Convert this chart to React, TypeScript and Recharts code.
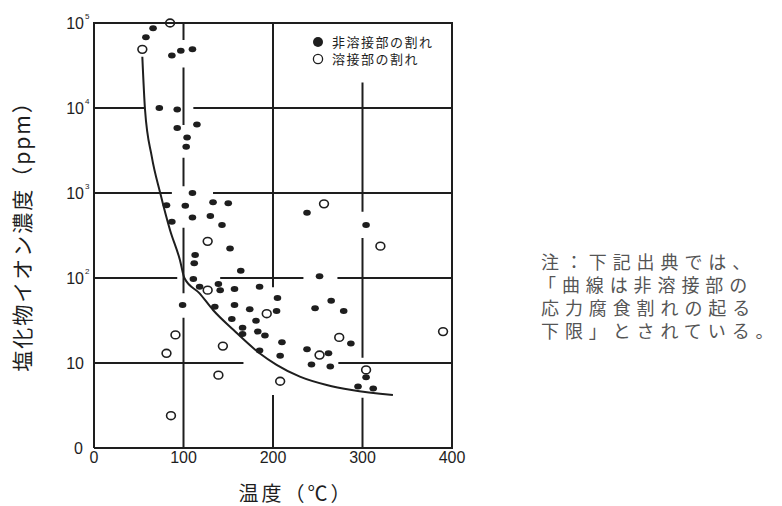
import { ComposedChart, Scatter, Line, XAxis, YAxis } from 'recharts';

// 非溶接部の割れ (filled)
const baseTemps = [66, 58, 87, 97, 110, 73, 93, 93, 115, 104, 103, 110, 81, 102, 133, 150, 87, 110, 130, 143, 152, 238, 304, 113, 112, 164, 252, 111, 118, 139, 141, 157, 185, 205, 204, 99, 135, 157, 174, 154, 181, 166, 166, 183, 191, 247, 265, 279, 287, 210, 185, 208, 238, 262, 243, 264, 304, 295, 312];
const baseConc = [87000, 68000, 41500, 47000, 49000, 10000, 9600, 5800, 6400, 4500, 3500, 1000, 720, 710, 780, 760, 460, 515, 535, 420, 223, 585, 420, 186, 149, 122, 105, 97, 79, 85, 72, 74, 79, 58, 41, 48, 46, 48, 43, 33, 31.5, 26, 22, 23.4, 21, 44, 54, 41, 17, 17.5, 14, 12.2, 14.5, 13, 9.6, 9.1, 6.8, 5.3, 5.0];

// 溶接部の割れ (open)
const weldTemps = [54, 85, 127, 257, 320, 127, 193, 274, 390, 91, 81, 144, 139, 86, 208, 252, 304];
const weldConc = [49000, 100000, 270, 745, 237, 72, 38, 20, 23.4, 21.4, 13, 15.8, 7.2, 2.4, 6.1, 12.4, 8.3];

// lower limit curve
const curveTemps = [54, 57, 64.5, 74, 85, 96, 101, 118, 133, 156, 185, 204, 230, 260, 288, 334];
const curveConc = [40000, 9600, 2700, 1000, 365, 163, 100, 66, 42, 24.4, 13, 9.5, 6.9, 5.5, 4.8, 4.2];

const xTicks = [0, 100, 200, 300, 400];
const yTicks = [1, 10, 100, 1000, 10000, 100000];

// grid lines of the printed figure are interrupted around the marks: visible spans only
const vGridTemps = [100, 200, 300];
const vGridSpans = [
  [[100000, 63000], [30000, 6300], [2600, 1200], [390, 66], [34, 1]],
  [[100000, 78], [4.2, 1]],
  [[20000, 600], [295, 11.5], [3.9, 1]],
];
const hGridConc = [10000, 1000, 100, 10];
const hGridSpans = [
  [[0, 57], [111, 400]],
  [[0, 87], [133, 400]],
  [[0, 93], [141, 234], [272, 400]],
  [[0, 167], [273, 400]],
];

const legendLabels = ['非溶接部の割れ', '溶接部の割れ'];
const noteLines = ['注：下記出典では、', '「曲線は非溶接部の', '応力腐食割れの起る', '下限」とされている。'];

const baseData = baseTemps.map((t, i) => ({ t, c: baseConc[i] }));
const weldData = weldTemps.map((t, i) => ({ t, c: weldConc[i] }));
const curveData = curveTemps.map((t, i) => ({ t, c: curveConc[i] }));

const vGridData = vGridTemps.map((t, i) =>
  vGridSpans[i].flatMap(([a, b]) => [{ t, c: a }, { t, c: b }, { t, c: null }])
);
const hGridData = hGridConc.map((c, i) =>
  hGridSpans[i].flatMap(([a, b]) => [{ t: a, c }, { t: b, c }, { t: b, c: null }])
);

const INK = '#1e1e1e';
const NUM_FONT = '"Liberation Sans", Arial, sans-serif';
const JP_FONT = '"Noto Sans CJK JP", sans-serif';

// plot box (chart margins + axis sizes)
const PLOT = { left: 94, top: 23, right: 452, bottom: 448 };

const YTick = ({ x, y, payload }: any) => {
  const exp = Math.round(Math.log10(payload.value));
  if (exp === 0) {
    return (
      <text x={x - 1} y={y} dy="0.35em" textAnchor="end" fontSize={16} fill={INK} fontFamily={NUM_FONT}>0</text>
    );
  }
  return (
    <g>
      <text x={x} y={y} dy="0.35em" textAnchor="end" fontSize={16} fill={INK} fontFamily={NUM_FONT}>10</text>
      {exp > 1 && (
        <text x={x + 1} y={y - 4} textAnchor="start" fontSize={8} fill={INK} fontFamily={NUM_FONT}>{exp}</text>
      )}
    </g>
  );
};

const XTick = ({ x, y, payload }: any) => (
  <text x={x} y={y} dy="0.71em" textAnchor="middle" fontSize={16} fill={INK} fontFamily={NUM_FONT}>
    {payload.value}
  </text>
);

const FilledDot = ({ cx, cy }: any) => <ellipse cx={cx} cy={cy} rx={3.8} ry={3} fill={INK} />;
const OpenDot = ({ cx, cy }: any) => (
  <ellipse cx={cx} cy={cy} rx={4.4} ry={3.9} fill="#fff" stroke={INK} strokeWidth={1.6} />
);

const frameLine = { stroke: INK, strokeWidth: 2 };

export default function App() {
  return (
    <div style={{ position: 'absolute', left: 0, top: 0, width: 782, height: 506, background: '#fff' }}>
      <ComposedChart
        width={782}
        height={506}
        margin={{ top: PLOT.top, right: 782 - PLOT.right, bottom: 28, left: 34 }}
      >
        <XAxis
          type="number"
          dataKey="t"
          domain={[0, 400]}
          ticks={xTicks}
          tick={<XTick />}
          tickSize={0}
          tickMargin={4}
          height={30}
          axisLine={frameLine}
        />
        <YAxis
          type="number"
          dataKey="c"
          scale="log"
          domain={[1, 100000]}
          ticks={yTicks}
          tick={<YTick />}
          tickSize={0}
          tickMargin={10}
          width={60}
          axisLine={frameLine}
        />
        {vGridData.map((d, i) => (
          <Line key={`v${i}`} data={d} dataKey="c" type="linear" stroke={INK} strokeWidth={2}
            dot={false} activeDot={false} isAnimationActive={false} />
        ))}
        {hGridData.map((d, i) => (
          <Line key={`h${i}`} data={d} dataKey="c" type="linear" stroke={INK} strokeWidth={2}
            dot={false} activeDot={false} isAnimationActive={false} />
        ))}
        <Line
          data={curveData}
          dataKey="c"
          type="monotone"
          stroke={INK}
          strokeWidth={2}
          dot={false}
          activeDot={false}
          isAnimationActive={false}
        />
        <Scatter data={baseData} dataKey="c" shape={<FilledDot />} isAnimationActive={false} />
        <Scatter data={weldData} dataKey="c" shape={<OpenDot />} isAnimationActive={false} />
      </ComposedChart>

      {/* top and right edges of the plot frame */}
      <div
        style={{
          position: 'absolute',
          left: PLOT.left - 1,
          top: PLOT.top - 1,
          width: PLOT.right - PLOT.left,
          height: PLOT.bottom - PLOT.top,
          borderTop: `2px solid ${INK}`,
          borderRight: `2px solid ${INK}`,
          pointerEvents: 'none',
        }}
      />

      <svg width={782} height={506} style={{ position: 'absolute', left: 0, top: 0, pointerEvents: 'none' }}>
        {/* legend */}
        <circle cx={318} cy={42} r={5} fill={INK} />
        <circle cx={318} cy={59} r={4.6} fill="#fff" stroke={INK} strokeWidth={1.3} />
        {legendLabels.map((s, i) => (
          <text key={s} x={332} y={42 + i * 17} dy="0.35em" fontSize={13} letterSpacing={1.5} fill={INK} fontFamily={JP_FONT}>
            {s}
          </text>
        ))}

        {/* axis titles */}
        <text x={296} y={494} dy="0.35em" textAnchor="middle" fontSize={20} letterSpacing={3} fill={INK} fontFamily={JP_FONT}>
          温度（℃）
        </text>
        <text
          transform="translate(23,231) rotate(-90)"
          textAnchor="middle"
          dy="0.35em"
          fontSize={21}
          letterSpacing={2}
          fill={INK}
          fontFamily={JP_FONT}
        >
          塩化物イオン濃度（ppm）
        </text>

        {/* note */}
        <text fontSize={18} letterSpacing={5.9} fill="#555" fontFamily={JP_FONT}>
          {noteLines.map((s, i) => (
            <tspan key={s} x={i === 1 ? 538 : 541} y={269 + i * 23}>
              {s}
            </tspan>
          ))}
        </text>
      </svg>
    </div>
  );
}
